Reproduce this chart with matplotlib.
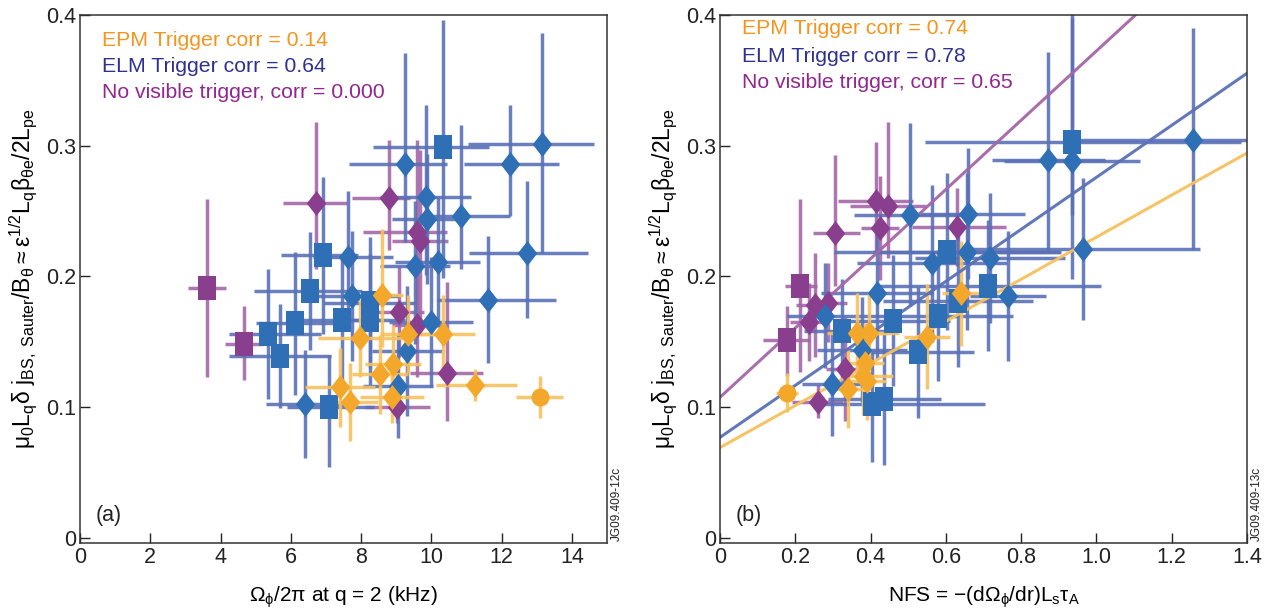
import matplotlib
matplotlib.use("Agg")
import matplotlib.pyplot as plt
import numpy as np

plt.rcParams['font.family'] = ['Liberation Sans', 'DejaVu Sans']
plt.rcParams['mathtext.fontset'] = 'custom'
plt.rcParams['mathtext.rm'] = 'Liberation Sans'
plt.rcParams['mathtext.it'] = 'Liberation Sans'
plt.rcParams['mathtext.default'] = 'regular'

# ---------------- data: panel (a) ----------------
# No visible trigger
a_nvt_x   = [3.61, 4.67, 6.71, 8.79, 9.59, 9.67, 9.08, 9.59, 10.44, 9.02]
a_nvt_y   = [0.191, 0.148, 0.256, 0.260, 0.234, 0.227, 0.173, 0.163, 0.126, 0.100]
a_nvt_xlo = [0.55, 0.55, 0.93, 1.05, 1.54, 0.8, 0.7, 0.7, 1.05, 0.9]
a_nvt_xhi = [0.55, 0.55, 0.89, 0.6, 0.85, 0.8, 0.7, 0.7, 1.03, 0.94]
a_nvt_ylo = [0.068, 0.027, 0.05, 0.04, 0.06, 0.07, 0.035, 0.04, 0.037, 0.012]
a_nvt_yhi = [0.068, 0.029, 0.062, 0.044, 0.07, 0.07, 0.035, 0.04, 0.07, 0.03]
a_nvt_mk  = ['s', 's', 'd', 'd', 'd', 'd', 'd', 'd', 'd', 'd']

# ELM trigger
a_elm_x   = [10.33, 13.14, 12.23, 9.25, 9.84, 10.84, 9.87, 9.53, 10.18, 12.72, 11.61,
             7.62, 6.91, 6.54, 7.74, 8.25, 8.25, 7.45, 6.12, 5.35, 5.69, 6.40, 7.08,
             9.99, 9.30, 9.05]
a_elm_y   = [0.299, 0.301, 0.286, 0.286, 0.261, 0.246, 0.244, 0.208, 0.211, 0.218, 0.182,
             0.215, 0.216, 0.189, 0.185, 0.180, 0.167, 0.167, 0.164, 0.156, 0.139, 0.102, 0.100,
             0.165, 0.143, 0.116]
a_elm_xlo = [2.0, 2.1, 1.3, 1.6, 1.3, 1.2, 1.0, 1.0, 1.2, 1.65, 1.45,
             1.0, 1.2, 1.6, 1.3, 1.3, 1.0, 1.2, 1.1, 1.1, 1.45, 1.1, 1.2,
             1.2, 1.0, 1.0]
a_elm_xhi = [1.3, 1.5, 1.4, 1.2, 1.3, 1.39, 1.0, 1.0, 1.2, 1.75, 1.95,
             1.3, 1.0, 1.5, 1.3, 1.3, 1.0, 1.2, 1.1, 1.5, 1.45, 1.3, 1.3,
             1.2, 1.0, 1.0]
a_elm_ylo = [0.10, 0.083, 0.04, 0.06, 0.06, 0.04, 0.05, 0.06, 0.05, 0.05, 0.048,
             0.055, 0.06, 0.045, 0.05, 0.05, 0.05, 0.05, 0.055, 0.05, 0.04, 0.041, 0.046,
             0.05, 0.05, 0.04]
a_elm_yhi = [0.097, 0.085, 0.045, 0.085, 0.07, 0.07, 0.05, 0.05, 0.05, 0.055, 0.049,
             0.05, 0.06, 0.045, 0.05, 0.05, 0.05, 0.05, 0.055, 0.05, 0.04, 0.042, 0.04,
             0.05, 0.05, 0.04]
a_elm_mk  = ['s', 'd', 'd', 'd', 'd', 'd', 'd', 'd', 'd', 'd', 'd',
             'd', 's', 's', 'd', 's', 's', 's', 's', 's', 's', 'd', 's',
             'd', 'd', 'd']

# EPM trigger
a_epm_x   = [8.59, 7.97, 9.33, 10.33, 8.90, 8.53, 7.40, 7.68, 11.24, 13.09, 8.88]
a_epm_y   = [0.186, 0.153, 0.156, 0.156, 0.133, 0.125, 0.115, 0.104, 0.117, 0.108, 0.108]
a_epm_xlo = [0.6, 1.2, 0.8, 0.9, 0.8, 0.8, 1.0, 0.8, 1.1, 0.67, 0.9]
a_epm_xhi = [0.6, 1.2, 0.8, 0.9, 0.8, 0.8, 1.0, 0.8, 1.2, 0.67, 0.9]
a_epm_ylo = [0.04, 0.03, 0.03, 0.03, 0.03, 0.03, 0.03, 0.03, 0.012, 0.016, 0.02]
a_epm_yhi = [0.05, 0.03, 0.03, 0.03, 0.03, 0.03, 0.03, 0.03, 0.012, 0.016, 0.02]
a_epm_mk  = ['d', 'd', 'd', 'd', 'd', 'd', 'd', 'd', 'd', 'o', 'd']

# ---------------- data: panel (b) ----------------
b_nvt_x   = [0.213, 0.178, 0.306, 0.414, 0.446, 0.425, 0.630, 0.252, 0.287, 0.237, 0.332, 0.261]
b_nvt_y   = [0.193, 0.151, 0.233, 0.258, 0.254, 0.237, 0.238, 0.178, 0.180, 0.165, 0.129, 0.104]
b_nvt_xlo = [0.04, 0.064, 0.06, 0.1, 0.1, 0.05, 0.12, 0.05, 0.05, 0.05, 0.05, 0.07]
b_nvt_xhi = [0.045, 0.06, 0.066, 0.1, 0.1, 0.05, 0.13, 0.05, 0.05, 0.05, 0.05, 0.065]
b_nvt_ylo = [0.066, 0.027, 0.04, 0.04, 0.04, 0.04, 0.03, 0.04, 0.03, 0.03, 0.04, 0.012]
b_nvt_yhi = [0.066, 0.026, 0.06, 0.045, 0.064, 0.04, 0.03, 0.04, 0.03, 0.03, 0.04, 0.013]
b_nvt_mk  = ['s', 's', 'd', 'd', 'd', 'd', 'd', 'd', 'd', 'd', 'd', 'd']

b_elm_x   = [0.324, 0.279, 0.417, 0.377, 0.297, 0.460, 0.404, 0.436, 0.526, 0.579, 0.563,
             0.603, 0.632, 0.505, 0.659, 0.656, 0.935, 0.935, 0.872, 1.257, 0.964, 0.717,
             0.712, 0.765]
b_elm_y   = [0.158, 0.170, 0.187, 0.144, 0.118, 0.166, 0.102, 0.106, 0.142, 0.170, 0.210,
             0.219, 0.181, 0.247, 0.248, 0.219, 0.303, 0.288, 0.289, 0.304, 0.221, 0.214,
             0.193, 0.185]
b_elm_xlo = [0.1, 0.1, 0.15, 0.12, 0.08, 0.15, 0.15, 0.15, 0.15, 0.2, 0.2,
             0.3, 0.2, 0.15, 0.15, 0.25, 0.39, 0.18, 0.15, 0.3, 0.32, 0.2,
             0.3, 0.1]
b_elm_xhi = [0.15, 0.1, 0.15, 0.12, 0.08, 0.15, 0.3, 0.15, 0.15, 0.2, 0.2,
             0.3, 0.2, 0.15, 0.15, 0.25, 0.45, 0.18, 0.15, 0.3, 0.31, 0.2,
             0.3, 0.1]
b_elm_ylo = [0.04, 0.04, 0.05, 0.04, 0.04, 0.05, 0.044, 0.05, 0.05, 0.05, 0.06,
             0.06, 0.05, 0.07, 0.05, 0.06, 0.056, 0.09, 0.07, 0.083, 0.054, 0.05,
             0.05, 0.05]
b_elm_yhi = [0.04, 0.04, 0.05, 0.04, 0.04, 0.05, 0.04, 0.05, 0.05, 0.05, 0.06,
             0.06, 0.05, 0.07, 0.05, 0.06, 0.10, 0.11, 0.083, 0.086, 0.054, 0.05,
             0.05, 0.05]
b_elm_mk  = ['s', 'd', 'd', 'd', 'd', 's', 's', 's', 's', 's', 'd',
             's', 's', 'd', 'd', 'd', 's', 'd', 'd', 'd', 'd', 'd',
             's', 'd']

b_epm_x   = [0.178, 0.365, 0.395, 0.550, 0.385, 0.380, 0.340, 0.390, 0.640]
b_epm_y   = [0.111, 0.157, 0.157, 0.154, 0.134, 0.124, 0.114, 0.120, 0.187]
b_epm_xlo = [0.03, 0.08, 0.08, 0.06, 0.05, 0.05, 0.05, 0.05, 0.05]
b_epm_xhi = [0.03, 0.08, 0.08, 0.06, 0.05, 0.08, 0.05, 0.05, 0.05]
b_epm_ylo = [0.015, 0.03, 0.03, 0.04, 0.03, 0.03, 0.03, 0.03, 0.04]
b_epm_yhi = [0.015, 0.03, 0.03, 0.04, 0.03, 0.03, 0.03, 0.03, 0.04]
b_epm_mk  = ['o', 'd', 'd', 'd', 'd', 'd', 'd', 'd', 'd']

# fitted trend lines in panel (b): intercept, slope
fit_nvt = (0.1075, 0.265)
fit_elm = (0.0768, 0.199)
fit_epm = (0.069, 0.161)

legend_a = ["EPM Trigger corr = 0.14", "ELM Trigger corr = 0.64", "No visible trigger, corr = 0.000"]
legend_b = ["EPM Trigger corr = 0.74", "ELM Trigger corr = 0.78", "No visible trigger, corr = 0.65"]

# ---------------- style ----------------
C_EPM_BAR, C_EPM_MK, C_EPM_TXT = '#f6c15e', '#f3a82c', '#f7941d'
C_ELM_BAR, C_ELM_MK, C_ELM_TXT = '#5a71b6', '#2f6fb5', '#2e3192'
C_NVT_BAR, C_NVT_MK, C_NVT_TXT = '#a467a8', '#8a3f8e', '#92278f'

SQ = [(-0.75, -1), (0.75, -1), (0.75, 1), (-0.75, 1), (-0.75, -1)]
DI = [(0, -1), (0.78, 0), (0, 1), (-0.78, 0), (0, -1)]
MK = {'s': SQ, 'd': DI, 'o': 'o'}
MS = {'s': 17, 'd': 18, 'o': 13}


def draw_bars(ax, x, y, xlo, xhi, ylo, yhi, color):
    ax.errorbar(x, y, xerr=[xlo, xhi], yerr=[ylo, yhi], fmt='none',
                ecolor=color, elinewidth=2.5, capsize=0, alpha=0.9, zorder=2)


def draw_marks(ax, x, y, mks, color):
    for xi, yi, m in zip(x, y, mks):
        ax.plot([xi], [yi], linestyle='none', marker=MK[m], markersize=MS[m],
                color=color, markeredgewidth=0, zorder=3)


fig = plt.figure(figsize=(12.7, 6.15), dpi=100)
ax_a = fig.add_axes([80 / 1270, 1 - 543 / 615, 527 / 1270, 528 / 615])
ax_b = fig.add_axes([720 / 1270, 1 - 543 / 615, 527 / 1270, 528 / 615])

# panel a
draw_bars(ax_a, a_nvt_x, a_nvt_y, a_nvt_xlo, a_nvt_xhi, a_nvt_ylo, a_nvt_yhi, C_NVT_BAR)
draw_bars(ax_a, a_elm_x, a_elm_y, a_elm_xlo, a_elm_xhi, a_elm_ylo, a_elm_yhi, C_ELM_BAR)
draw_bars(ax_a, a_epm_x, a_epm_y, a_epm_xlo, a_epm_xhi, a_epm_ylo, a_epm_yhi, C_EPM_BAR)
draw_marks(ax_a, a_nvt_x, a_nvt_y, a_nvt_mk, C_NVT_MK)
draw_marks(ax_a, a_elm_x, a_elm_y, a_elm_mk, C_ELM_MK)
draw_marks(ax_a, a_epm_x, a_epm_y, a_epm_mk, C_EPM_MK)

# panel b
draw_bars(ax_b, b_nvt_x, b_nvt_y, b_nvt_xlo, b_nvt_xhi, b_nvt_ylo, b_nvt_yhi, C_NVT_BAR)
draw_bars(ax_b, b_elm_x, b_elm_y, b_elm_xlo, b_elm_xhi, b_elm_ylo, b_elm_yhi, C_ELM_BAR)
draw_bars(ax_b, b_epm_x, b_epm_y, b_epm_xlo, b_epm_xhi, b_epm_ylo, b_epm_yhi, C_EPM_BAR)
xx = np.array([0.0, 1.4])
for (b0, b1), col in [(fit_nvt, C_NVT_BAR), (fit_elm, C_ELM_BAR), (fit_epm, C_EPM_BAR)]:
    ax_b.plot(xx, b0 + b1 * xx, color=col, lw=2.2, alpha=0.95, zorder=2.5)
draw_marks(ax_b, b_nvt_x, b_nvt_y, b_nvt_mk, C_NVT_MK)
draw_marks(ax_b, b_elm_x, b_elm_y, b_elm_mk, C_ELM_MK)
draw_marks(ax_b, b_epm_x, b_epm_y, b_epm_mk, C_EPM_MK)

ylab = (r'$\mu_0L_q\delta\ j_{BS,\ Sauter}/B_\theta \approx \epsilon^{1/2}'
        r'L_q\beta_{\theta e}/2L_{pe}$')

for ax in (ax_a, ax_b):
    ax.set_ylim(-0.004, 0.4)
    ax.set_yticks([0, 0.1, 0.2, 0.3, 0.4])
    ax.set_yticklabels(['0', '0.1', '0.2', '0.3', '0.4'])
    ax.tick_params(direction='in', length=7, width=1, labelsize=15.5, pad=3,
                   colors='#222222')
    for s in ax.spines.values():
        s.set_linewidth(1.1)
        s.set_color('#333333')
    ax.set_ylabel(ylab, fontsize=16.5, labelpad=4)

ax_a.set_xlim(0, 15)
ax_a.set_xticks([0, 2, 4, 6, 8, 10, 12, 14])
ax_a.set_xlabel(r'$\Omega_\phi/2\pi$ at q = 2 (kHz)', fontsize=15, labelpad=12)
ax_b.set_xlim(0, 1.4)
ax_b.set_xticks([0, 0.2, 0.4, 0.6, 0.8, 1.0, 1.2, 1.4])
ax_b.set_xticklabels(['0', '0.2', '0.4', '0.6', '0.8', '1.0', '1.2', '1.4'])
ax_b.set_xlabel(r'NFS = $-$(d$\Omega_\phi$/dr)L$_s\tau_A$', fontsize=15, labelpad=12)

cols = [C_EPM_TXT, C_ELM_TXT, C_NVT_TXT]
for i, (t, c) in enumerate(zip(legend_a, cols)):
    ax_a.text(22 / 527, 1 - (41 + 25.5 * i - 15) / 528, t, color=c, fontsize=15.3,
              transform=ax_a.transAxes, va='center', ha='left')
for i, (t, c) in enumerate(zip(legend_b, cols)):
    ax_b.text(22 / 527, 1 - (29 + 27 * i - 15) / 528, t, color=c, fontsize=15.3,
              transform=ax_b.transAxes, va='center', ha='left')

ax_a.text(16 / 527, 28 / 528, '(a)', fontsize=15.5, transform=ax_a.transAxes,
          va='center', ha='left', color='#222222')
ax_b.text(16 / 527, 28 / 528, '(b)', fontsize=15.5, transform=ax_b.transAxes,
          va='center', ha='left', color='#222222')

fig.text(617 / 1270, 1 - 541 / 615, 'JG09.409-12c', rotation=90, fontsize=8.5,
         va='bottom', ha='center', color='#222222')
fig.text(1257 / 1270, 1 - 541 / 615, 'JG09.409-13c', rotation=90, fontsize=8.5,
         va='bottom', ha='center', color='#222222')

fig.savefig('out.png', dpi=100)
